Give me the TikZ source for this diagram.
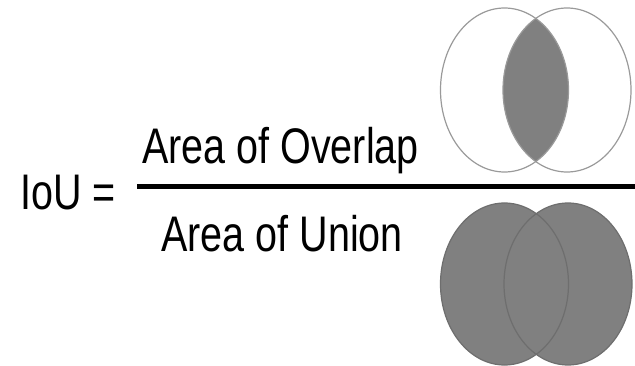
\documentclass[tikz,border=0pt]{standalone}
\usepackage{fontspec}
\newfontfamily\narrow[FakeStretch=0.79]{Liberation Sans}
\definecolor{lensgray}{HTML}{808080}
\definecolor{rimgray}{HTML}{9A9A9A}
\definecolor{darkrim}{HTML}{6E6E6E}
\begin{document}
\begin{tikzpicture}[x=1pt,y=-1pt,
  formula/.style={font=\narrow\fontsize{50}{60}\selectfont, inner sep=0pt},
  rim/.style={draw=rimgray, line width=1.2pt},
  unionrim/.style={draw=darkrim, line width=1.2pt, fill=lensgray}]
\useasboundingbox (0,0) rectangle (635,366);
% text
\node[formula, anchor=base west] (iou) at (20,210) {IoU =};
\node[formula, anchor=base] (num) at (280.5,164) {Area of Overlap};
\node[formula, anchor=base] (den) at (282,252) {Area of Union};
\coordinate (fracL) at (137,187);
\coordinate (fracR) at (635,187);
\draw[line width=5pt] (fracL) -- (fracR);
% overlap (top)
\begin{scope}
  \clip (504.5,90) ellipse [x radius=64, y radius=82];
  \fill[lensgray] (567,90) ellipse [x radius=64, y radius=82];
\end{scope}
\draw[rim] (504.5,90) ellipse [x radius=64, y radius=82];
\draw[rim] (567,90) ellipse [x radius=64, y radius=82];
% union (bottom)
\fill[lensgray] (504.5,284) ellipse [x radius=64, y radius=81];
\fill[lensgray] (568,284) ellipse [x radius=64, y radius=81];
\draw[darkrim, line width=1.2pt] (504.5,284) ellipse [x radius=64, y radius=81];
\draw[darkrim, line width=1.2pt] (568,284) ellipse [x radius=64, y radius=81];
\end{tikzpicture}
\end{document}
